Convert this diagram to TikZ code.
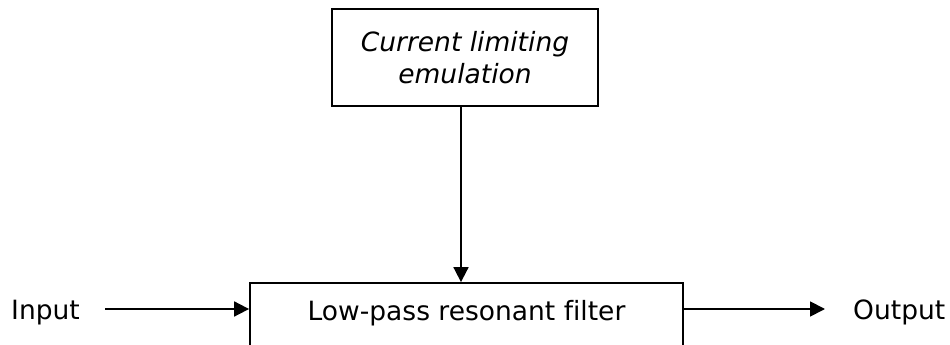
\documentclass[tikz,border=0pt]{standalone}
\usepackage{fontspec}
\setmainfont[Ligatures=NoCommon]{DejaVu Sans}
\usepackage{tikz}
\usetikzlibrary{arrows.meta, calc}

\tikzset{
    block/.style={draw, line width=1.8pt, inner sep=0pt, align=center},
    sig/.style={inner sep=0pt, text height=22pt, text depth=0pt},
    flow/.style={line width=1.8pt, -{Triangle[length=15pt,width=15pt]}}
}

\begin{document}
\begin{tikzpicture}[x=1pt, y=1pt, font=\fontsize{26.5}{31.5}\selectfont]
        \useasboundingbox (0,0) rectangle (950,345);
        \clip (0,0) rectangle (950,345);

        \node[block, minimum width=266pt, minimum height=97pt] (limit) at (465,287.5)
            {\itshape Current limiting\\\itshape emulation};
        \node[block, anchor=base, minimum width=433pt, text height=38pt, text depth=40pt] (filter) at (466.5,24)
            {Low-pass resonant filter};

        \node[sig, anchor=base west] (inp) at (11,25) {Input};
        \node[sig, anchor=base west] (outp) at (853,25) {Output};

        \draw[flow, shorten <=25pt] (inp.east) -- (inp.east -| filter.west);
        \draw[flow, shorten >=28pt] (filter.east |- outp.west) -- (outp.west);
        \draw[flow] ([xshift=-4pt]limit.south) -- ([xshift=-4pt]limit.south |- filter.north);

    \end{tikzpicture}
\end{document}
